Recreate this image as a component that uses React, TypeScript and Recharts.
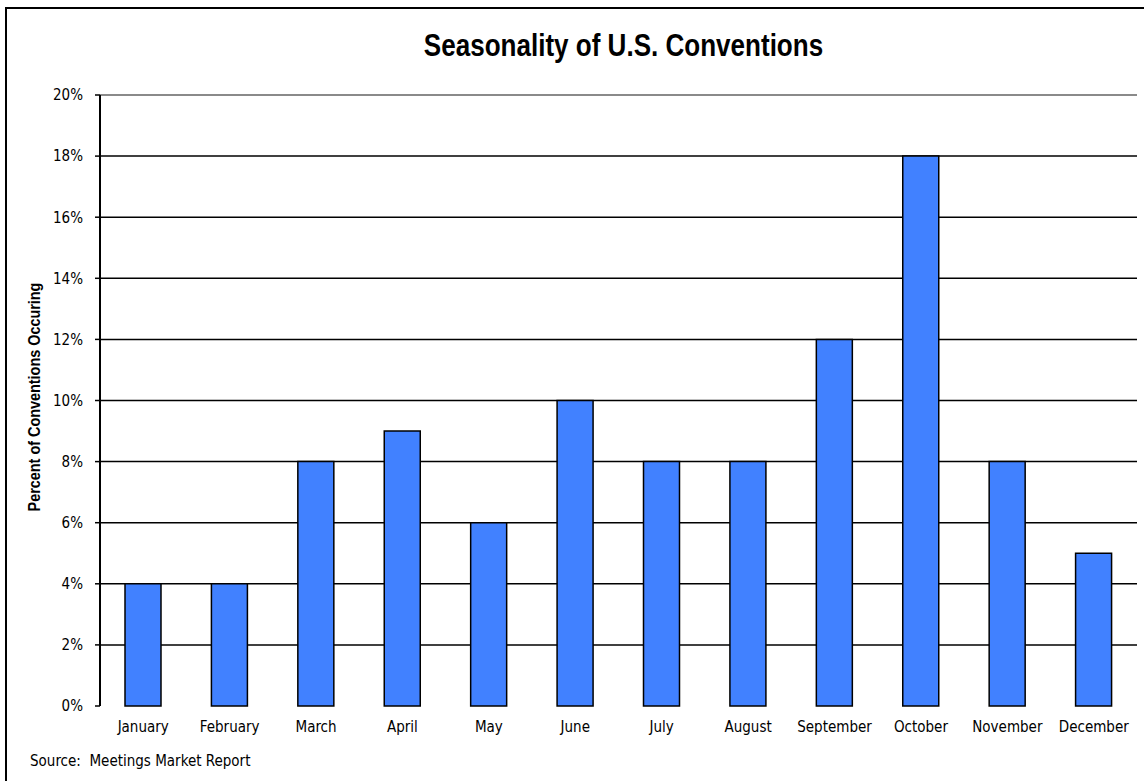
import { BarChart, Bar, XAxis, YAxis, CartesianGrid, ReferenceLine } from "recharts";

const MONTHS = [
  "January",
  "February",
  "March",
  "April",
  "May",
  "June",
  "July",
  "August",
  "September",
  "October",
  "November",
  "December",
];
const SHARE = [4, 4, 8, 9, 6, 10, 8, 8, 12, 18, 8, 5];
const Y_TICKS = [0, 2, 4, 6, 8, 10, 12, 14, 16, 18, 20];
const GRID_LINES = [2, 4, 6, 8, 10, 12, 14, 16, 18];
const MONTH_EDGES = [0, 1, 2, 3, 4, 5, 6, 7, 8, 9, 10, 11, 12];

const FONT = '"DejaVu Sans Condensed", "Liberation Sans", sans-serif';
const TITLE_FONT = '"Liberation Sans", Arial, sans-serif';

const data = MONTHS.map((month, i) => ({ month, share: SHARE[i] }));

export default function App() {
  return (
    <div
      style={{
        position: "absolute",
        left: 0,
        top: 0,
        width: 1144,
        height: 781,
        overflow: "hidden",
        background: "#fff",
        fontFamily: FONT,
      }}
    >
      {/* outer frame */}
      <div
        style={{
          position: "absolute",
          left: 5,
          top: 7,
          width: 1160,
          height: 800,
          border: "2px solid #000",
        }}
      />

      <BarChart
        width={1144}
        height={781}
        data={data}
        margin={{ top: 95, right: 7, bottom: 45, left: 40 }}
        style={{ position: "absolute", left: 0, top: 0 }}
      >
        <CartesianGrid
          vertical={false}
          horizontalValues={GRID_LINES}
          stroke="#000"
          strokeWidth={1.5}
          xAxisId="cat"
        />
        <ReferenceLine y={20} stroke="#8a8a8a" strokeWidth={2} xAxisId="cat" />
        <XAxis
          xAxisId="edge"
          type="number"
          domain={[0, 12]}
          ticks={MONTH_EDGES}
          tick={false}
          height={0}
          tickSize={6}
          axisLine={{ stroke: "#000", strokeWidth: 2 }}
          tickLine={{ stroke: "#000", strokeWidth: 1.5 }}
        />
        <XAxis
          xAxisId="cat"
          dataKey="month"
          height={30}
          axisLine={false}
          tickLine={false}
          tickMargin={9}
          interval={0}
          tick={{ fill: "#000", fontSize: 15, fontFamily: FONT }}
        />
        <YAxis
          width={60}
          domain={[0, 20]}
          ticks={Y_TICKS}
          tickFormatter={(v) => `${v}%`}
          tickSize={5}
          tickMargin={12}
          axisLine={{ stroke: "#000", strokeWidth: 2 }}
          tickLine={{ stroke: "#000", strokeWidth: 1.5 }}
          tick={{ fill: "#000", fontSize: 15, fontFamily: FONT }}
        />
        <YAxis
          yAxisId="frame"
          orientation="right"
          width={0}
          tick={false}
          tickLine={false}
          axisLine={{ stroke: "#8a8a8a", strokeWidth: 2 }}
        />
        <Bar
          dataKey="share"
          xAxisId="cat"
          barSize={36}
          fill="#4181FF"
          stroke="#000"
          strokeWidth={1.5}
          isAnimationActive={false}
        />
      </BarChart>

      {/* title */}
      <div
        style={{
          position: "absolute",
          left: 105,
          width: 1037,
          top: 30,
          lineHeight: 1,
          textAlign: "center",
          fontFamily: TITLE_FONT,
          fontSize: 31,
          fontWeight: "bold",
          color: "#000",
          transform: "scaleX(0.84)",
          transformOrigin: "center",
        }}
      >
        Seasonality of U.S. Conventions
      </div>

      {/* y axis title */}
      <div
        style={{
          position: "absolute",
          left: 35,
          top: 397,
          transform: "translate(-50%, -50%) rotate(-90deg) scaleX(0.9)",
          whiteSpace: "nowrap",
          lineHeight: 1,
          fontFamily: TITLE_FONT,
          fontSize: 16,
          fontWeight: "bold",
          color: "#000",
        }}
      >
        Percent of Conventions Occuring
      </div>

      {/* source note */}
      <div
        style={{
          position: "absolute",
          left: 30,
          top: 752,
          fontSize: 15,
          color: "#000",
          whiteSpace: "pre",
        }}
      >
        Source:  Meetings Market Report
      </div>
    </div>
  );
}
